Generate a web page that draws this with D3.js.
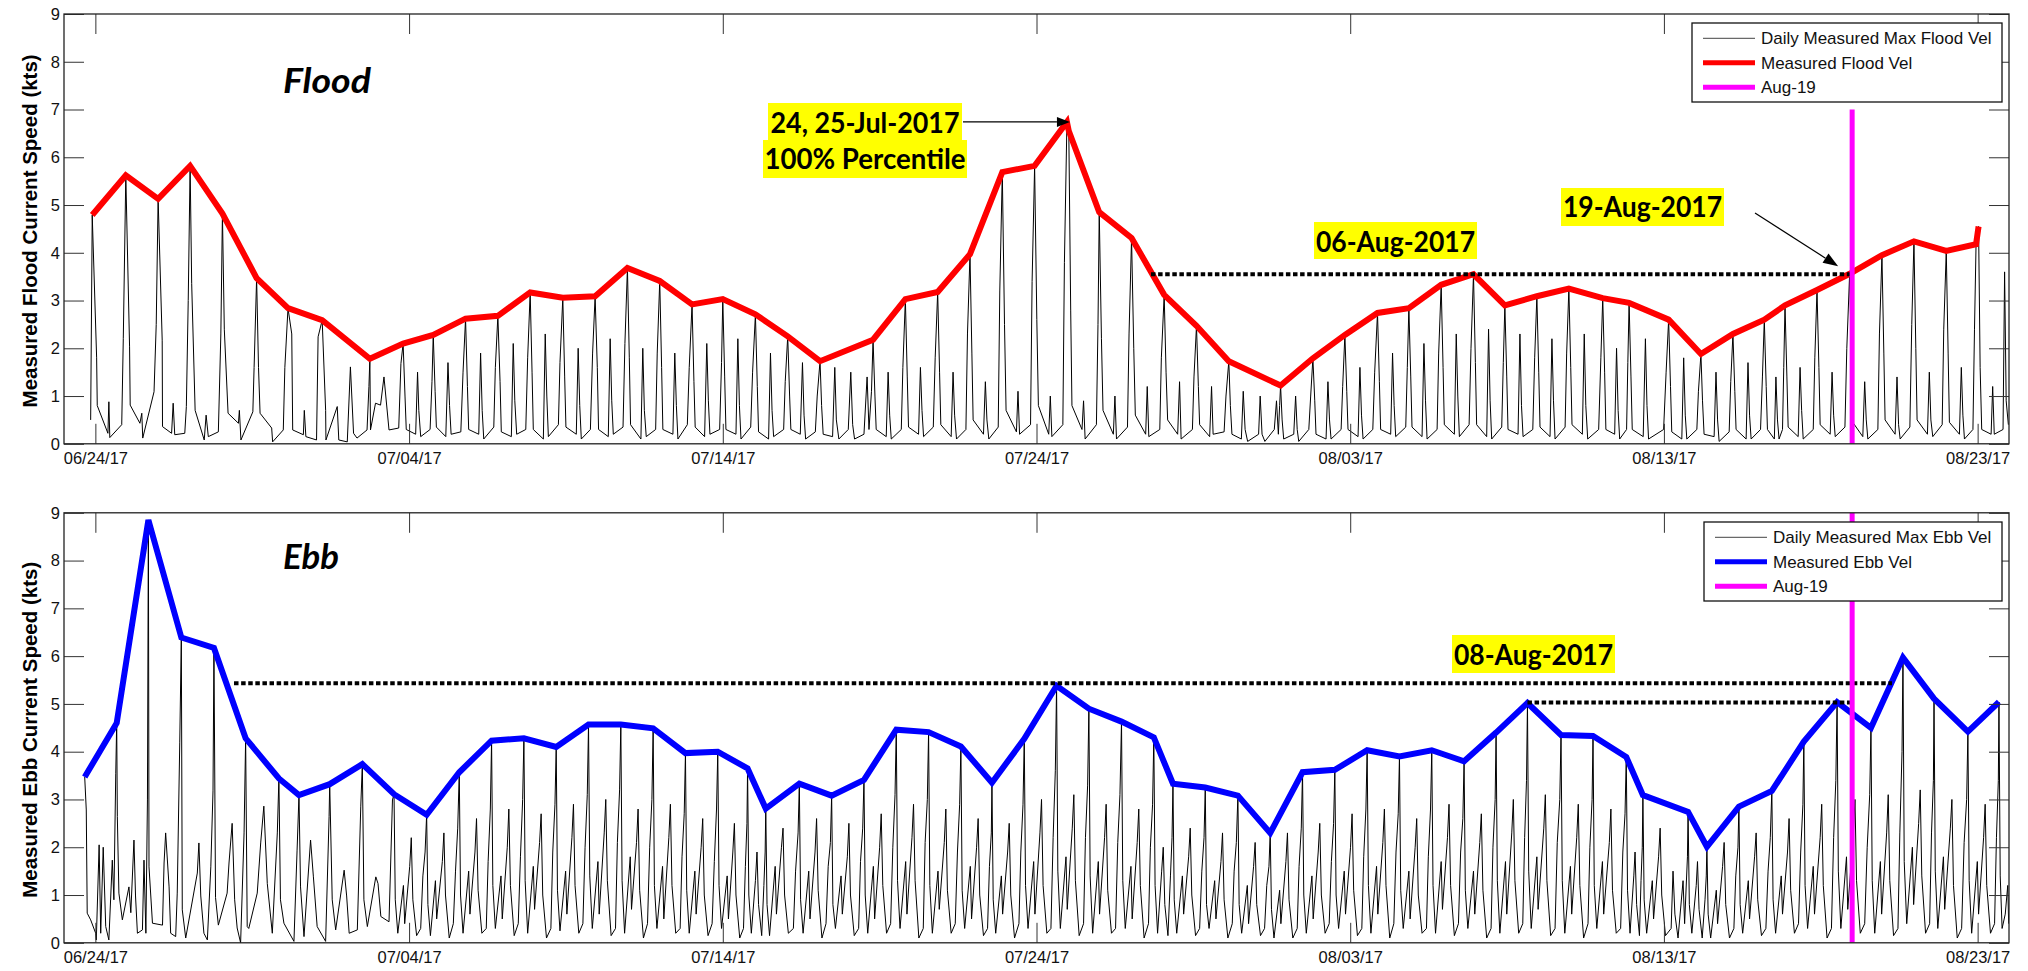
<!DOCTYPE html>
<html>
<head>
<meta charset="utf-8">
<script src="https://cdn.jsdelivr.net/npm/d3@7"></script>
<style>
  body { margin: 0; background: #fff; }
  svg { display: block; }
  .tick text { font-family: "Liberation Sans", Arial, sans-serif; font-size: 16.5px; fill: #111; }
</style>
</head>
<body>
<div class="canvas"></div>
<script>
// ---------- data ----------
const xTickLabels = ['06/24/17', '07/04/17', '07/14/17', '07/24/17', '08/03/17', '08/13/17', '08/23/17'];
const yTicks = [0, 1, 2, 3, 4, 5, 6, 7, 8, 9];
const markerLabel = '08/19/17';

// times are days after 06/24/17 00:00
const floodPeakT = [-0.10, 0.97, 2.00, 3.02, 4.05, 5.14, 6.14, 7.23, 8.75, 9.81, 10.77, 11.80, 12.83, 13.86, 14.90,
  15.93, 16.96, 17.99, 19.02, 20.00, 21.04, 22.07, 23.10, 24.79, 25.82, 26.85, 27.88, 28.91, 29.94, 30.97, 31.03,
  32.00, 33.03, 34.07, 35.10, 36.13, 37.78, 38.81, 39.83, 40.87, 41.87, 42.90, 43.93, 44.93, 45.95, 46.97, 48.05,
  48.89, 50.15, 51.18, 52.20, 53.20, 53.86, 54.88, 55.92, 56.95, 57.97, 59.00, 59.95, 60.03];
const floodPeakV = [4.79, 5.62, 5.13, 5.82, 4.82, 3.47, 2.84, 2.59, 1.78, 2.10, 2.28, 2.62, 2.68, 3.17, 3.06,
  3.09, 3.68, 3.41, 2.92, 3.03, 2.71, 2.25, 1.73, 2.18, 3.03, 3.18, 3.97, 5.69, 5.82, 6.74, 6.55,
  4.85, 4.31, 3.12, 2.47, 1.73, 1.22, 1.79, 2.28, 2.74, 2.84, 3.33, 3.55, 2.90, 3.09, 3.25, 3.05,
  2.95, 2.60, 1.88, 2.30, 2.60, 2.90, 3.22, 3.56, 3.95, 4.24, 4.04, 4.18, 4.55];

// readings between the daily maxima: [days after previous max, value, ...]
const floodStart = [-0.15, 0.5];
const floodGaps = [
  [0.14,1.8, 0.16,0.8, 0.5,0.22, 0.53,0.88, 0.56,0.13, 0.94,0.4, 0.99,2.2],
  [0.12,2.03, 0.14,0.81, 0.45,0.43, 0.51,0.64, 0.54,0.12, 0.9,1.09, 0.97,2.5],
  [0.13,2.17, 0.14,0.36, 0.43,0.22, 0.48,0.85, 0.53,0.19, 0.85,0.22, 0.9,0.78, 0.96,3.0],
  [0.05,3.36, 0.16,0.7, 0.45,0.08, 0.51,0.6, 0.58,0.15, 0.9,0.25, 0.98,2.3],
  [0.06,2.4, 0.18,0.64, 0.51,0.43, 0.54,0.7, 0.59,0.08, 0.97,0.67, 1.01,1.6],
  [0.06,1.6, 0.11,0.64, 0.48,0.33, 0.51,0.04, 0.85,0.29, 0.9,1.6],
  [0.12,2.3, 0.15,0.29, 0.49,0.19, 0.52,0.7, 0.57,0.15, 0.91,0.08, 0.96,2.24],
  [0.11,0.7, 0.12,0.08, 0.48,0.78, 0.53,0.08, 0.8,0.04, 0.9,1.61, 1.0,0.22, 1.11,0.12, 1.43,0.29, 1.49,1.2],
  [0.02,0.29, 0.18,0.85, 0.34,0.81, 0.45,1.4, 0.61,0.29, 0.92,0.33, 0.99,1.68],
  [0.06,1.0, 0.1,0.3, 0.4,0.2, 0.46,1.5, 0.5,0.7, 0.56,0.15, 0.86,0.3, 0.92,1.3],
  [0.06,1.1, 0.1,0.35, 0.4,0.15, 0.47,1.7, 0.52,0.8, 0.57,0.2, 0.88,0.25, 0.95,1.5],
  [0.06,1.2, 0.1,0.3, 0.42,0.2, 0.48,1.9, 0.53,0.7, 0.58,0.1, 0.9,0.35, 0.95,1.6],
  [0.07,1.3, 0.11,0.25, 0.43,0.15, 0.49,2.1, 0.54,0.9, 0.6,0.2, 0.89,0.3, 0.95,1.8],
  [0.06,1.5, 0.1,0.3, 0.42,0.1, 0.48,2.3, 0.53,1.0, 0.58,0.15, 0.9,0.4, 0.95,1.7],
  [0.06,1.4, 0.1,0.35, 0.43,0.2, 0.49,2.0, 0.54,0.8, 0.59,0.1, 0.88,0.3, 0.95,1.9],
  [0.07,1.6, 0.11,0.3, 0.42,0.15, 0.48,2.2, 0.53,0.9, 0.58,0.2, 0.89,0.35, 0.95,2.1],
  [0.06,1.8, 0.1,0.4, 0.43,0.1, 0.49,2.0, 0.54,0.7, 0.6,0.15, 0.9,0.3, 0.95,1.9],
  [0.06,1.6, 0.1,0.3, 0.42,0.2, 0.48,1.9, 0.53,0.8, 0.58,0.1, 0.88,0.4, 0.94,1.6],
  [0.06,1.3, 0.1,0.35, 0.4,0.15, 0.47,2.1, 0.52,0.9, 0.57,0.2, 0.88,0.3, 0.94,1.7],
  [0.06,1.4, 0.1,0.3, 0.42,0.2, 0.48,2.2, 0.53,0.8, 0.58,0.1, 0.89,0.35, 0.95,1.5],
  [0.06,1.2, 0.1,0.25, 0.42,0.1, 0.48,1.9, 0.53,0.7, 0.58,0.15, 0.9,0.3, 0.95,1.3],
  [0.06,1.0, 0.1,0.3, 0.4,0.2, 0.47,1.7, 0.52,0.6, 0.57,0.1, 0.88,0.25, 0.94,1.0],
  [0.05,0.8, 0.1,0.2, 0.4,0.15, 0.47,1.6, 0.52,0.5, 0.6,0.1, 0.9,0.3, 0.98,1.5, 1.04,0.4, 1.1,0.1, 1.4,0.2, 1.5,1.4, 1.56,0.3, 1.64,1.1],
  [0.06,1.0, 0.1,0.3, 0.42,0.15, 0.48,1.5, 0.53,0.6, 0.58,0.1, 0.9,0.3, 0.95,1.6],
  [0.06,1.4, 0.1,0.35, 0.42,0.2, 0.48,1.6, 0.53,0.7, 0.58,0.15, 0.89,0.35, 0.95,1.8],
  [0.06,1.5, 0.1,0.4, 0.43,0.15, 0.49,1.5, 0.54,0.6, 0.6,0.1, 0.9,0.3, 0.95,2.3],
  [0.06,1.9, 0.1,0.5, 0.43,0.2, 0.49,1.3, 0.54,0.5, 0.6,0.1, 0.9,0.35, 0.95,3.2],
  [0.07,2.5, 0.12,0.7, 0.45,0.25, 0.5,1.1, 0.55,0.2, 0.9,0.4, 0.95,3.4],
  [0.07,2.6, 0.12,0.8, 0.45,0.2, 0.5,1.0, 0.55,0.15, 0.9,0.4, 0.95,3.8],
  [],
  [0.06,2.8, 0.1,0.8, 0.42,0.3, 0.47,0.9, 0.52,0.1, 0.88,0.4, 0.93,2.5],
  [0.07,2.2, 0.12,0.7, 0.45,0.2, 0.5,1.0, 0.55,0.1, 0.9,0.35, 0.95,2.3],
  [0.07,2.0, 0.12,0.6, 0.45,0.2, 0.5,1.2, 0.55,0.15, 0.9,0.3, 0.95,1.8],
  [0.06,1.5, 0.11,0.5, 0.43,0.2, 0.49,1.3, 0.54,0.1, 0.9,0.3, 0.95,1.4],
  [0.06,1.2, 0.1,0.4, 0.42,0.15, 0.48,1.2, 0.53,0.2, 0.88,0.25, 0.94,1.0],
  [0.05,0.8, 0.1,0.2, 0.4,0.1, 0.46,1.1, 0.52,0.3, 0.6,0.05, 0.95,0.2, 1.0,1.0, 1.06,0.2, 1.15,0.05, 1.45,0.3, 1.52,0.9, 1.58,0.2, 1.62,0.8],
  [0.05,0.5, 0.1,0.1, 0.42,0.2, 0.48,1.0, 0.53,0.3, 0.58,0.05, 0.9,0.3, 0.96,1.0],
  [0.06,0.9, 0.1,0.2, 0.42,0.1, 0.48,1.3, 0.53,0.5, 0.58,0.1, 0.9,0.3, 0.95,1.2],
  [0.06,1.1, 0.1,0.3, 0.42,0.15, 0.48,1.6, 0.53,0.6, 0.58,0.1, 0.89,0.3, 0.95,1.5],
  [0.06,1.3, 0.1,0.3, 0.42,0.2, 0.48,1.9, 0.53,0.8, 0.58,0.15, 0.9,0.35, 0.95,1.6],
  [0.06,1.4, 0.1,0.35, 0.42,0.15, 0.48,2.1, 0.53,0.9, 0.58,0.1, 0.9,0.3, 0.95,1.9],
  [0.06,1.6, 0.1,0.4, 0.42,0.2, 0.48,2.3, 0.53,1.0, 0.58,0.15, 0.89,0.4, 0.95,2.0],
  [0.06,1.7, 0.1,0.4, 0.42,0.15, 0.48,2.4, 0.53,0.9, 0.58,0.1, 0.9,0.35, 0.95,1.7],
  [0.06,1.4, 0.1,0.3, 0.42,0.2, 0.48,2.3, 0.53,0.8, 0.58,0.15, 0.89,0.3, 0.95,1.8],
  [0.06,1.5, 0.1,0.35, 0.42,0.15, 0.48,2.2, 0.53,0.9, 0.58,0.1, 0.9,0.35, 0.95,1.9],
  [0.06,1.6, 0.1,0.4, 0.43,0.2, 0.49,2.3, 0.54,0.8, 0.6,0.1, 0.95,0.3, 1.02,1.8],
  [0.06,1.5, 0.1,0.3, 0.38,0.2, 0.44,2.0, 0.49,0.7, 0.54,0.1, 0.76,0.3, 0.8,1.7],
  [0.06,1.4, 0.1,0.3, 0.45,0.15, 0.52,2.2, 0.57,0.8, 0.62,0.1, 1.1,0.3, 1.18,1.5],
  [0.06,1.2, 0.1,0.25, 0.42,0.1, 0.48,1.8, 0.53,0.6, 0.58,0.1, 0.9,0.3, 0.95,1.1],
  [0.05,0.9, 0.1,0.2, 0.42,0.15, 0.48,1.5, 0.53,0.5, 0.58,0.05, 0.9,0.25, 0.95,1.3],
  [0.06,1.1, 0.1,0.3, 0.42,0.1, 0.48,1.7, 0.53,0.6, 0.58,0.1, 0.88,0.3, 0.94,1.4],
  [0.06,1.2, 0.1,0.3, 0.32,0.1, 0.37,1.4, 0.42,0.5, 0.47,0.1, 0.58,0.3, 0.62,1.6],
  [0.06,1.4, 0.1,0.35, 0.42,0.15, 0.48,1.6, 0.53,0.7, 0.58,0.1, 0.9,0.3, 0.95,1.8],
  [0.06,1.6, 0.1,0.4, 0.42,0.2, 0.48,1.5, 0.53,0.6, 0.58,0.15, 0.89,0.35, 0.95,2.0],
  [0.06,1.7, 0.1,0.45, 0.42,0.15, 0.48,1.3, 0.53,0.5, 0.58,0.1, 0.9,0.3, 0.95,2.3],
  [0.06,1.9, 0.1,0.5, 0.42,0.2, 0.48,1.4, 0.53,0.4, 0.58,0.1, 0.89,0.35, 0.95,2.5],
  [0.06,2.0, 0.1,0.5, 0.43,0.2, 0.49,1.5, 0.54,0.5, 0.6,0.15, 0.9,0.4, 0.95,2.4],
  [0.06,1.9, 0.1,0.45, 0.42,0.2, 0.48,1.6, 0.53,0.6, 0.58,0.1, 0.85,0.3, 0.9,2.4],
  []
];
const floodTail = [0.05,1.6, 0.1,0.3, 0.4,0.2, 0.45,1.2, 0.5,0.2, 0.78,0.3, 0.83,3.6, 0.88,0.9, 0.95,0.4];

const ebbPeakT = [-0.34, 0.68, 1.69, 2.74, 3.78, 4.79, 5.85, 6.49, 7.47, 8.51, 9.52, 10.56, 11.60, 12.63, 13.66,
  14.69, 15.72, 16.75, 17.78, 18.81, 19.84, 20.79, 21.37, 22.44, 23.47, 24.50, 25.53, 26.56, 27.59, 28.58, 29.61,
  30.64, 31.67, 32.71, 33.74, 34.35, 35.38, 36.42, 37.45, 38.48, 39.51, 40.54, 41.57, 42.60, 43.63, 44.65, 45.65,
  46.72, 47.74, 48.80, 49.33, 50.77, 51.37, 52.39, 53.44, 54.46, 55.52, 56.60, 57.62, 58.61, 59.69, 60.68];
const ebbPeakV = [3.47, 4.60, 8.85, 6.39, 6.17, 4.28, 3.44, 3.09, 3.32, 3.74, 3.11, 2.68, 3.57, 4.23, 4.28,
  4.10, 4.57, 4.57, 4.49, 3.97, 4.00, 3.65, 2.81, 3.33, 3.08, 3.41, 4.46, 4.41, 4.11, 3.35, 4.27,
  5.38, 4.90, 4.63, 4.30, 3.33, 3.25, 3.08, 2.30, 3.57, 3.62, 4.03, 3.90, 4.03, 3.80, 4.40, 5.02,
  4.35, 4.33, 3.89, 3.09, 2.74, 2.01, 2.85, 3.18, 4.21, 5.04, 4.50, 5.97, 5.11, 4.42, 5.04];

const ebbGaps = [
  [0.05,2.78, 0.08,0.62, 0.19,0.48, 0.35,0.2, 0.37,0.06, 0.46,2.05, 0.51,0.2, 0.59,2.0, 0.67,0.34, 0.77,0.06, 0.88,1.73, 0.93,0.9, 0.99,3.55],
  [0.02,2.64, 0.07,1.04, 0.18,0.48, 0.39,1.17, 0.45,0.63, 0.55,2.15, 0.6,0.98, 0.66,0.2, 0.82,0.27, 0.87,1.73, 0.93,0.2, 0.98,2.99],
  [0.02,1.59, 0.13,0.41, 0.45,0.37, 0.5,1.67, 0.55,2.3, 0.66,1.17, 0.71,0.2, 0.87,0.13, 0.92,1.04, 1.0,4.2],
  [0.03,0.69, 0.14,0.1, 0.51,1.46, 0.56,2.09, 0.62,0.98, 0.72,0.2, 0.83,0.06, 0.94,1.59, 1.01,3.18],
  [0.05,0.95, 0.14,0.37, 0.42,1.04, 0.48,1.67, 0.58,2.5, 0.66,0.9, 0.74,0.31, 0.85,0.0, 0.96,2.3],
  [0.05,0.34, 0.1,0.3, 0.37,1.04, 0.48,2.09, 0.58,2.86, 0.69,1.24, 0.85,0.2, 1.01,2.3],
  [0.05,0.9, 0.16,0.41, 0.48,0.03, 0.58,1.94],
  [0.05,1.17, 0.16,0.13, 0.37,2.15, 0.46,1.38, 0.58,0.34, 0.85,0.03, 0.96,2.64],
  [0.08,0.9, 0.19,0.27, 0.46,1.52, 0.54,0.98, 0.62,0.2, 0.88,0.27, 0.99,2.86],
  [0.05,0.9, 0.16,0.34, 0.43,1.38, 0.5,1.24, 0.59,0.55, 0.85,0.44, 0.96,2.99],
  [0.04,0.9, 0.12,0.2, 0.3,1.2, 0.34,0.4, 0.5,1.6, 0.55,2.2, 0.6,0.9, 0.72,0.15, 0.85,0.3, 0.92,1.4, 0.99,1.9],
  [0.04,0.8, 0.12,0.15, 0.28,1.3, 0.32,0.5, 0.5,1.7, 0.55,2.3, 0.6,1.0, 0.72,0.1, 0.85,0.4, 0.92,1.5, 0.99,2.4],
  [0.04,1.0, 0.12,0.2, 0.3,1.5, 0.34,0.6, 0.5,1.9, 0.55,2.6, 0.6,1.1, 0.72,0.2, 0.86,0.3, 0.92,1.7, 0.99,2.8],
  [0.04,1.2, 0.12,0.3, 0.3,1.4, 0.34,0.5, 0.5,2.0, 0.55,2.8, 0.6,1.2, 0.72,0.15, 0.85,0.4, 0.92,1.8, 0.99,3.0],
  [0.04,1.3, 0.12,0.2, 0.3,1.6, 0.34,0.7, 0.5,2.1, 0.55,2.7, 0.6,1.0, 0.72,0.1, 0.86,0.3, 0.92,1.9, 0.99,2.9],
  [0.04,1.1, 0.12,0.25, 0.3,1.5, 0.34,0.6, 0.5,2.2, 0.55,2.9, 0.6,1.2, 0.72,0.2, 0.85,0.4, 0.92,2.0, 0.99,3.1],
  [0.04,1.4, 0.12,0.3, 0.3,1.7, 0.34,0.6, 0.5,2.3, 0.55,3.0, 0.6,1.3, 0.72,0.15, 0.86,0.3, 0.92,2.1, 0.99,3.2],
  [0.04,1.3, 0.12,0.2, 0.3,1.8, 0.34,0.7, 0.5,2.1, 0.55,2.8, 0.6,1.1, 0.72,0.1, 0.85,0.4, 0.92,2.0, 0.99,3.0],
  [0.04,1.2, 0.12,0.3, 0.3,1.6, 0.34,0.5, 0.5,2.2, 0.55,2.9, 0.6,1.2, 0.72,0.2, 0.86,0.3, 0.92,1.8, 0.99,2.7],
  [0.04,1.1, 0.12,0.2, 0.3,1.5, 0.34,0.6, 0.5,2.0, 0.55,2.6, 0.6,1.0, 0.72,0.15, 0.85,0.4, 0.92,1.7, 0.99,2.8],
  [0.04,1.2, 0.12,0.3, 0.3,1.4, 0.34,0.5, 0.48,1.9, 0.53,2.5, 0.58,1.0, 0.7,0.1, 0.82,0.3, 0.88,1.6, 0.93,2.5],
  [0.04,1.0, 0.12,0.2, 0.25,1.3, 0.3,1.9, 0.35,0.8, 0.45,0.15, 0.52,1.2, 0.56,1.9],
  [0.04,0.8, 0.12,0.15, 0.3,1.6, 0.34,0.6, 0.5,2.0, 0.55,2.4, 0.6,1.0, 0.72,0.2, 0.88,0.3, 0.95,1.5, 1.03,2.3],
  [0.04,0.9, 0.12,0.2, 0.3,1.5, 0.34,0.5, 0.5,1.9, 0.55,2.6, 0.6,1.1, 0.72,0.1, 0.85,0.4, 0.92,1.6, 0.99,2.1],
  [0.04,0.8, 0.12,0.3, 0.3,1.4, 0.34,0.6, 0.5,1.8, 0.55,2.5, 0.6,1.0, 0.72,0.15, 0.86,0.3, 0.92,1.7, 0.99,2.4],
  [0.04,1.0, 0.12,0.2, 0.3,1.6, 0.34,0.5, 0.5,2.0, 0.55,2.7, 0.6,1.2, 0.72,0.2, 0.85,0.4, 0.92,2.0, 0.99,3.1],
  [0.04,1.3, 0.12,0.3, 0.3,1.7, 0.34,0.6, 0.5,2.2, 0.55,2.9, 0.6,1.3, 0.72,0.1, 0.86,0.3, 0.92,2.1, 0.99,3.0],
  [0.04,1.2, 0.12,0.2, 0.3,1.5, 0.34,0.7, 0.5,2.1, 0.55,2.8, 0.6,1.1, 0.72,0.2, 0.85,0.4, 0.92,1.9, 0.99,2.9],
  [0.04,1.1, 0.12,0.3, 0.3,1.6, 0.34,0.5, 0.5,2.0, 0.55,2.6, 0.6,1.0, 0.72,0.15, 0.85,0.3, 0.91,1.6, 0.97,2.3],
  [0.04,0.9, 0.12,0.2, 0.3,1.4, 0.34,0.6, 0.5,1.9, 0.55,2.5, 0.6,1.0, 0.72,0.1, 0.86,0.4, 0.92,1.9, 0.99,2.9],
  [0.04,1.2, 0.12,0.3, 0.3,1.7, 0.34,0.6, 0.5,2.3, 0.55,3.0, 0.6,1.2, 0.72,0.2, 0.85,0.3, 0.92,2.2, 0.99,3.6],
  [0.04,1.5, 0.12,0.3, 0.3,1.8, 0.34,0.7, 0.5,2.4, 0.55,3.1, 0.6,1.3, 0.72,0.15, 0.86,0.4, 0.92,2.2, 0.99,3.3],
  [0.04,1.4, 0.12,0.2, 0.3,1.7, 0.34,0.6, 0.5,2.2, 0.55,2.9, 0.6,1.1, 0.72,0.2, 0.85,0.3, 0.92,2.1, 0.99,3.1],
  [0.04,1.3, 0.12,0.3, 0.3,1.6, 0.34,0.5, 0.5,2.1, 0.55,2.8, 0.6,1.2, 0.72,0.1, 0.86,0.4, 0.92,2.0, 0.99,2.9],
  [0.04,1.2, 0.12,0.2, 0.25,1.5, 0.3,2.0, 0.35,0.8, 0.45,0.15, 0.53,1.4, 0.58,2.2],
  [0.04,0.9, 0.12,0.2, 0.3,1.4, 0.34,0.6, 0.5,1.8, 0.55,2.4, 0.6,1.0, 0.72,0.15, 0.85,0.3, 0.92,1.5, 0.99,2.2],
  [0.04,0.8, 0.12,0.3, 0.3,1.3, 0.34,0.5, 0.5,1.7, 0.55,2.3, 0.6,0.9, 0.72,0.1, 0.86,0.4, 0.92,1.5, 0.99,2.1],
  [0.04,0.8, 0.12,0.2, 0.3,1.2, 0.34,0.4, 0.5,1.6, 0.55,2.1, 0.6,0.8, 0.72,0.15, 0.85,0.3, 0.92,1.2, 0.99,1.6],
  [0.04,0.7, 0.12,0.1, 0.3,1.1, 0.34,0.4, 0.5,1.7, 0.55,2.3, 0.6,0.9, 0.72,0.1, 0.86,0.3, 0.92,1.6, 0.99,2.4],
  [0.04,1.0, 0.12,0.2, 0.3,1.4, 0.34,0.5, 0.5,1.9, 0.55,2.5, 0.6,1.0, 0.72,0.2, 0.85,0.4, 0.92,1.7, 0.99,2.5],
  [0.04,1.0, 0.12,0.3, 0.3,1.5, 0.34,0.6, 0.5,2.0, 0.55,2.7, 0.6,1.1, 0.72,0.15, 0.86,0.3, 0.92,1.8, 0.99,2.8],
  [0.04,1.2, 0.12,0.2, 0.3,1.6, 0.34,0.6, 0.5,2.1, 0.55,2.8, 0.6,1.2, 0.72,0.1, 0.85,0.4, 0.92,1.9, 0.99,2.7],
  [0.04,1.1, 0.12,0.3, 0.3,1.5, 0.34,0.5, 0.5,2.0, 0.55,2.6, 0.6,1.0, 0.72,0.2, 0.86,0.3, 0.92,1.8, 0.99,2.8],
  [0.04,1.2, 0.12,0.2, 0.3,1.7, 0.34,0.7, 0.5,2.2, 0.55,2.9, 0.6,1.2, 0.72,0.15, 0.85,0.4, 0.92,1.9, 0.99,2.6],
  [0.04,1.1, 0.12,0.3, 0.3,1.5, 0.34,0.6, 0.5,2.1, 0.55,2.7, 0.6,1.1, 0.72,0.1, 0.86,0.3, 0.92,2.0, 0.99,3.0],
  [0.04,1.3, 0.12,0.2, 0.3,1.7, 0.34,0.6, 0.5,2.3, 0.55,3.0, 0.6,1.3, 0.72,0.2, 0.85,0.4, 0.91,2.2, 0.97,3.4],
  [0.04,1.5, 0.12,0.3, 0.3,1.8, 0.34,0.7, 0.52,2.4, 0.57,3.1, 0.62,1.3, 0.74,0.15, 0.88,0.3, 0.95,2.1, 1.03,3.0],
  [0.04,1.3, 0.12,0.2, 0.3,1.6, 0.34,0.6, 0.5,2.2, 0.55,2.9, 0.6,1.2, 0.72,0.1, 0.86,0.4, 0.92,2.0, 0.99,3.0],
  [0.04,1.2, 0.12,0.3, 0.3,1.7, 0.34,0.6, 0.52,2.1, 0.57,2.8, 0.62,1.1, 0.74,0.2, 0.88,0.3, 0.95,1.9, 1.02,2.7],
  [0.04,1.1, 0.12,0.2, 0.24,1.4, 0.28,1.9, 0.33,0.8, 0.42,0.15, 0.47,1.3, 0.51,2.0],
  [0.04,0.9, 0.12,0.2, 0.3,1.3, 0.34,0.5, 0.5,1.8, 0.55,2.4, 0.6,1.0, 0.72,0.15, 0.9,0.3, 0.96,1.5, 1.02,0.6, 1.12,0.1, 1.28,1.3, 1.33,0.4, 1.42,1.8],
  [0.04,0.8, 0.12,0.2, 0.26,1.2, 0.3,1.7, 0.35,0.7, 0.45,0.1, 0.54,0.9, 0.58,1.4],
  [0.04,0.6, 0.12,0.1, 0.3,1.1, 0.34,0.4, 0.5,1.6, 0.55,2.1, 0.6,0.8, 0.72,0.1, 0.86,0.3, 0.92,1.4, 0.99,2.0],
  [0.04,0.8, 0.12,0.2, 0.3,1.3, 0.34,0.5, 0.5,1.8, 0.55,2.3, 0.6,0.9, 0.72,0.15, 0.86,0.3, 0.93,1.5, 1.0,2.2],
  [0.04,0.9, 0.12,0.2, 0.3,1.4, 0.34,0.6, 0.5,1.9, 0.55,2.6, 0.6,1.1, 0.72,0.2, 0.85,0.4, 0.92,1.9, 0.99,2.9],
  [0.04,1.2, 0.12,0.3, 0.3,1.6, 0.34,0.6, 0.52,2.2, 0.57,2.9, 0.62,1.2, 0.74,0.1, 0.88,0.3, 0.95,2.2, 1.02,3.4],
  [0.04,1.5, 0.12,0.3, 0.3,1.8, 0.34,0.7, 0.52,2.3, 0.57,3.0, 0.62,1.3, 0.74,0.2, 0.88,0.4, 0.96,2.0, 1.04,3.1],
  [0.04,1.3, 0.12,0.2, 0.3,1.7, 0.34,0.6, 0.5,2.3, 0.55,3.1, 0.6,1.3, 0.72,0.15, 0.86,0.3, 0.92,2.3, 0.99,4.0],
  [0.04,1.7, 0.12,0.4, 0.3,2.0, 0.34,0.8, 0.5,2.5, 0.55,3.2, 0.6,1.4, 0.72,0.2, 0.85,0.4, 0.91,2.3, 0.97,3.4],
  [0.04,1.5, 0.12,0.3, 0.3,1.8, 0.34,0.7, 0.52,2.4, 0.57,3.0, 0.62,1.2, 0.74,0.1, 0.88,0.3, 0.96,2.1, 1.04,3.0],
  [0.04,1.3, 0.12,0.2, 0.3,1.7, 0.34,0.6, 0.5,2.2, 0.55,2.9, 0.6,1.2, 0.72,0.2, 0.85,0.4, 0.91,2.2, 0.97,3.4]
];
const ebbTail = [0.04,1.4, 0.1,0.3, 0.2,0.6, 0.28,1.2, 0.31,0.4];

// dotted reference levels: [value, from day, to day]
const floodLevels = [[3.55, 33.65, 55.93]];
const ebbLevels = [[5.43, 4.42, 57.27], [5.03, 45.65, 55.93]];

// ---------- layout ----------
const WIDTH = 2028;
const HEIGHT = 971;
const left = 64;
const right = 2009;
const tickLen = 20;
const dayMs = 864e5;
const t0 = new Date(2017, 5, 24);
const toDate = t => new Date(t0.getTime() + t * dayMs);
const parse = d3.timeParse('%m/%d/%y');
const markerDay = (parse(markerLabel) - t0) / dayMs;

const svg = d3.select('.canvas')
  .append('svg')
    .attr('width', WIDTH)
    .attr('height', HEIGHT);

const x = d3.scaleTime()
  .domain([new Date(2017, 5, 23), new Date(2017, 7, 24)])
  .range([left, right]);

const buildTrace = (peakT, peakV, gaps, start, tail) => {
  const pts = start ? [start] : [];
  peakT.forEach((t, i) => {
    pts.push([t, peakV[i]]);
    const g = i < peakT.length - 1 ? gaps[i] : tail;
    for (let k = 0; k < g.length; k += 2) pts.push([t + g[k], g[k + 1]]);
  });
  return pts;
};

const arrow = (g, x1, y1, x2, y2, len, wid) => {
  const a = Math.atan2(y2 - y1, x2 - x1);
  const bx = x2 - len * Math.cos(a), by = y2 - len * Math.sin(a);
  g.append('line')
    .attr('x1', x1).attr('y1', y1).attr('x2', bx).attr('y2', by)
    .attr('stroke', '#000').attr('stroke-width', 1.2);
  const px = Math.sin(a) * wid / 2, py = -Math.cos(a) * wid / 2;
  g.append('path')
    .attr('d', `M${x2},${y2}L${bx + px},${by + py}L${bx - px},${by - py}Z`)
    .attr('fill', '#000');
};

const label = (g, bx, by, bw, bh, text, baseline, tlen) => {
  g.append('rect')
    .attr('x', bx).attr('y', by).attr('width', bw).attr('height', bh)
    .attr('fill', '#ffff00');
  g.append('text')
    .attr('x', bx + bw / 2).attr('y', baseline)
    .attr('text-anchor', 'middle')
    .attr('textLength', tlen).attr('lengthAdjust', 'spacingAndGlyphs')
    .attr('font-family', 'Lato, "Open Sans", sans-serif')
    .attr('font-weight', 700).attr('font-size', 29)
    .text(text);
};

const panels = [
  {
    top: 14, bottom: 443.8, id: 'flood',
    trace: buildTrace(floodPeakT, floodPeakV, floodGaps, floodStart, floodTail),
    peakT: floodPeakT, peakV: floodPeakV, levels: floodLevels,
    color: '#ff0000', markerTop: 7,
    ylabel: 'Measured Flood Current Speed (kts)',
    title: 'Flood', titleBase: 93, titleLen: 88, titleSize: 35,
    legend: { x: 1692, y: 23, w: 310, h: 79, names: ['Daily Measured Max Flood Vel', 'Measured Flood Vel', 'Aug-19'] }
  },
  {
    top: 512.8, bottom: 942.8, id: 'ebb',
    trace: buildTrace(ebbPeakT, ebbPeakV, ebbGaps, null, ebbTail),
    peakT: ebbPeakT, peakV: ebbPeakV, levels: ebbLevels,
    color: '#0000ff', markerTop: 9,
    ylabel: 'Measured Ebb Current Speed (kts)',
    title: 'Ebb', titleBase: 569, titleLen: 56, titleSize: 34,
    legend: { x: 1704, y: 522, w: 298, h: 79, names: ['Daily Measured Max Ebb Vel', 'Measured Ebb Vel', 'Aug-19'] }
  }
];

panels.forEach(p => {
  const y = d3.scaleLinear().domain([0, 9]).range([p.bottom, p.top]);
  const g = svg.append('g');

  g.append('clipPath').attr('id', 'clip-' + p.id)
    .append('rect')
      .attr('x', left).attr('y', p.top)
      .attr('width', right - left).attr('height', p.bottom - p.top);

  const plot = g.append('g').attr('clip-path', `url(#clip-${p.id})`);

  // raw trace
  plot.append('path')
    .datum(p.trace)
    .attr('fill', 'none')
    .attr('stroke', '#000')
    .attr('stroke-width', 1)
    .attr('d', d3.line().x(d => x(toDate(d[0]))).y(d => y(d[1])));

  // daily max line
  plot.append('path')
    .datum(p.peakT.map((t, i) => [t, p.peakV[i]]))
    .attr('fill', 'none')
    .attr('stroke', p.color)
    .attr('stroke-width', 6)
    .attr('stroke-linejoin', 'miter')
    .attr('d', d3.line().x(d => x(toDate(d[0]))).y(d => y(d[1])));

  // dotted levels
  p.levels.forEach(l => {
    plot.append('line')
      .attr('x1', x(toDate(l[1]))).attr('x2', x(toDate(l[2])))
      .attr('y1', y(l[0])).attr('y2', y(l[0]))
      .attr('stroke', '#000')
      .attr('stroke-width', 4)
      .attr('stroke-dasharray', '4.5,2.6');
  });

  // Aug-19 marker
  plot.append('line')
    .attr('x1', x(toDate(markerDay))).attr('x2', x(toDate(markerDay)))
    .attr('y1', y(p.markerTop)).attr('y2', y(0))
    .attr('stroke', '#ff00ff')
    .attr('stroke-width', 5);

  // axes
  const ticks = xTickLabels.map(parse);
  const axisStyle = sel => {
    sel.select('.domain').remove();
    sel.selectAll('.tick line').attr('stroke', '#333');
  };
  g.append('g')
    .attr('transform', `translate(0,${p.bottom})`)
    .call(d3.axisBottom(x).tickValues(ticks).tickFormat(d3.timeFormat('%m/%d/%y'))
      .tickSize(-tickLen).tickPadding(8))
    .call(axisStyle);
  g.append('g')
    .attr('transform', `translate(0,${p.top})`)
    .call(d3.axisTop(x).tickValues(ticks).tickFormat('').tickSize(-tickLen))
    .call(axisStyle);
  g.append('g')
    .attr('transform', `translate(${left},0)`)
    .call(d3.axisLeft(y).tickValues(yTicks).tickFormat(d3.format('d'))
      .tickSize(-tickLen).tickPadding(4))
    .call(axisStyle);
  g.append('g')
    .attr('transform', `translate(${right},0)`)
    .call(d3.axisRight(y).tickValues(yTicks).tickFormat('').tickSize(-tickLen))
    .call(axisStyle);

  g.selectAll('.tick text').attr('fill', '#111');

  g.append('rect')
    .attr('x', left).attr('y', p.top)
    .attr('width', right - left).attr('height', p.bottom - p.top)
    .attr('fill', 'none')
    .attr('stroke', '#222')
    .attr('stroke-width', 1.3);

  // y label
  g.append('text')
    .attr('transform', `translate(30,${(p.top + p.bottom) / 2 + 2}) rotate(-90)`)
    .attr('text-anchor', 'middle')
    .attr('dy', '0.35em')
    .attr('font-family', '"Liberation Sans", Arial, sans-serif')
    .attr('font-weight', 700)
    .attr('font-size', 20.5)
    .text(p.ylabel);

  // panel title
  g.append('text')
    .attr('x', 283).attr('y', p.titleBase)
    .attr('textLength', p.titleLen).attr('lengthAdjust', 'spacingAndGlyphs')
    .attr('font-family', 'Lato, "Open Sans", sans-serif')
    .attr('font-weight', 700).attr('font-style', 'italic')
    .attr('font-size', p.titleSize)
    .text(p.title);

  // legend
  const L = p.legend;
  const lg = g.append('g');
  lg.append('rect')
    .attr('x', L.x).attr('y', L.y).attr('width', L.w).attr('height', L.h)
    .attr('fill', '#fff').attr('stroke', '#111').attr('stroke-width', 1.3);
  const sample = [['#444', 1], [p.color, 5], ['#ff00ff', 5]];
  L.names.forEach((name, i) => {
    const cy = L.y + 15.3 + i * 24.5;
    lg.append('line')
      .attr('x1', L.x + 11).attr('x2', L.x + 63)
      .attr('y1', cy).attr('y2', cy)
      .attr('stroke', sample[i][0]).attr('stroke-width', sample[i][1]);
    lg.append('text')
      .attr('x', L.x + 69).attr('y', cy)
      .attr('dy', '0.36em')
      .attr('font-family', '"Liberation Sans", Arial, sans-serif')
      .attr('font-size', 17)
      .attr('fill', '#111')
      .text(name);
  });

  p.y = y;
});

// ---------- annotations ----------
const floodPanel = panels[0];
const ag = svg.append('g');

label(ag, 768, 103, 194, 37, '24, 25-Jul-2017', 133, 189);
label(ag, 763, 140, 204, 38, '100% Percentile', 168.5, 201);
const pk = floodPeakV.indexOf(d3.max(floodPeakV));
arrow(ag, 963, floodPanel.y(floodPeakV[pk]), x(toDate(floodPeakT[pk])) + 3, floodPanel.y(floodPeakV[pk]), 13, 10);

label(ag, 1314, 222, 163, 37, '06-Aug-2017', 252, 159);
label(ag, 1561, 188, 163, 38, '19-Aug-2017', 217, 159);
arrow(ag, 1755, 213, x(toDate(markerDay)) - 14, floodPanel.y(floodLevels[0][0]) - 8, 15, 11);

label(ag, 1452, 635, 163, 38, '08-Aug-2017', 665, 159);
</script>
</body>
</html>
